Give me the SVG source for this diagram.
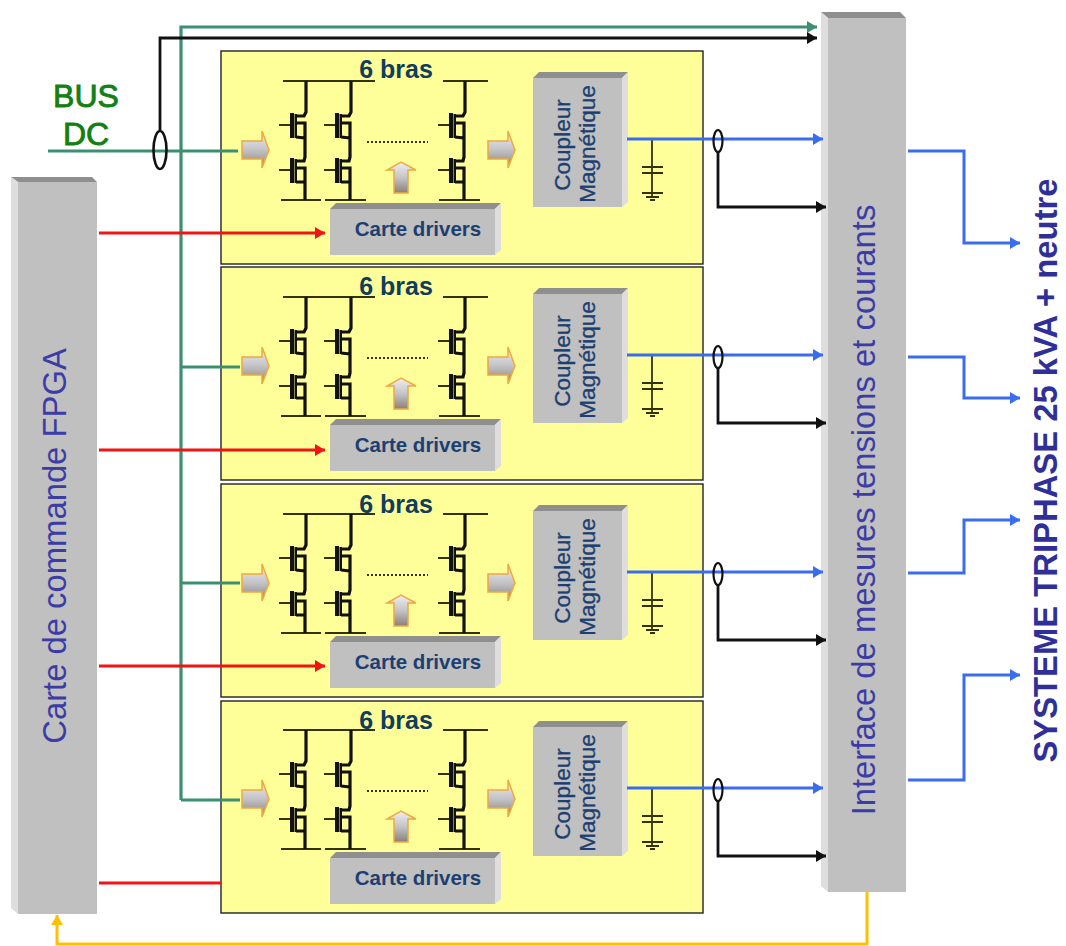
<svg xmlns="http://www.w3.org/2000/svg" width="1066" height="946" viewBox="0 0 1066 946">
<style>
text{font-family:"Liberation Sans",Arial,sans-serif}
.panel{fill:#ffff99;stroke:#222;stroke-width:1.400}
.face{fill:#c0c0c0}
.btop{fill:#8f8f8f}
.bside{fill:#dedede}
.cd{fill:#1c3f72;font-size:20.500px;font-weight:700}
.lbl{fill:#1c3f72;font-size:22.500px;stroke:#1c3f72;stroke-width:.3}
.bras{fill:#0f3d5e;font-size:25px;font-weight:700}
.big{fill:#3c3ca6;font-size:32.800px}
.sw{fill:none;stroke:#111;stroke-width:3.200}
.thin{fill:none;stroke:#33330a;stroke-width:1.800}
.arrowbox{fill:url(#sil);stroke:#f0a840;stroke-width:1.500}
.cn{fill:none;stroke-width:2.800}
.g{stroke:#3a9070;stroke-width:3.200}.k{stroke:#111}.r{stroke:#f01414;stroke-width:3.200}.b{stroke:#3a6cf0;stroke-width:3}.y{stroke:#ffc000;stroke-width:3}
</style>
<defs>
<linearGradient id="sil" x1="0" y1="0" x2="0" y2="1"><stop offset="0" stop-color="#f0f0f4"/><stop offset=".5" stop-color="#c4c4c8"/><stop offset="1" stop-color="#8a8078"/></linearGradient>
<marker id="mk" markerUnits="userSpaceOnUse" markerWidth="11" markerHeight="13" refX="10" refY="6.500" orient="auto"><path d="M0 .5L10 6.500L0 12.500z" fill="#111"/></marker>
<marker id="mg" markerUnits="userSpaceOnUse" markerWidth="11" markerHeight="13" refX="10" refY="6.500" orient="auto"><path d="M0 .5L10 6.500L0 12.500z" fill="#3a9070"/></marker>
<marker id="mr" markerUnits="userSpaceOnUse" markerWidth="11" markerHeight="13" refX="10" refY="6.500" orient="auto"><path d="M0 .5L10 6.500L0 12.500z" fill="#f01414"/></marker>
<marker id="mb" markerUnits="userSpaceOnUse" markerWidth="11" markerHeight="13" refX="10" refY="6.500" orient="auto"><path d="M0 .5L10 6.500L0 12.500z" fill="#3a6cf0"/></marker>
<marker id="my" markerUnits="userSpaceOnUse" markerWidth="11" markerHeight="13" refX="10" refY="6.500" orient="auto"><path d="M0 .5L10 6.500L0 12.500z" fill="#ffc000"/></marker>
<g id="leg">
<path class="sw" d="M1 -44V-13L-1 -9H-9M-9 -2H0V13L-9 12M0 13V32L-1 36H-9M-9 43H0V57L-9 57M0 57V75"/>
<path class="thin" d="M-26 0H-13M-26 45H-13"/>
<path d="M-15 -12H-11V13H-15zM-15 33H-11V58H-15z" fill="#111"/>
<path d="M-10.500 -11H-8V13H-10.500zM-10.500 34H-8V58H-10.500z" fill="#111"/>
</g>
<g id="mod">
<path class="thin" d="M283 81H375M443 81H488M281 200H321M325 200H366M439 200H480"/>
<use href="#leg" x="305" y="125"/><use href="#leg" x="350" y="125"/><use href="#leg" x="464" y="125"/>
<path d="M367 142H428" fill="none" stroke="#33330a" stroke-width="2" stroke-dasharray="2 2"/>
<path class="arrowbox" d="M242 141H262V131L269 150L262 168V159H242z"/>
<path class="arrowbox" d="M488 141H508V131L515 150L508 168V159H488z"/>
<path class="arrowbox" d="M394 193V170H387L401 162L416 170H408V193z"/>
<path class="face" d="M330 209H495V255H330z"/><path class="btop" d="M330 209L336 203H501L495 209z"/><path class="bside" d="M495 209L501 203V250L495 255z"/>
<path class="face" d="M533 78H622V207H533z"/><path class="btop" d="M533 78L539 72H628L622 78z"/><path class="bside" d="M622 78L628 72V202L622 207z"/>
<path class="thin" d="M652 139V198M642 167H663M642 173H663M642 193H663M646 197H659M650 200H655" stroke-width="2"/>
</g>
</defs>
<g id="module1"><rect class="panel" x="221" y="51" width="482" height="213"/><use href="#mod"/><text class="bras" x="396" y="78" text-anchor="middle">6 bras</text><text class="cd" x="418" y="236" text-anchor="middle">Carte drivers</text><text class="lbl" transform="translate(570 145) rotate(-90)" text-anchor="middle">Coupleur</text><text class="lbl" transform="translate(595 144) rotate(-90)" text-anchor="middle">Magnétique</text></g>
<g id="module2"><rect class="panel" x="221" y="267" width="482" height="213"/><use href="#mod" y="216"/><text class="bras" x="396" y="295" text-anchor="middle">6 bras</text><text class="cd" x="418" y="452" text-anchor="middle">Carte drivers</text><text class="lbl" transform="translate(570 361) rotate(-90)" text-anchor="middle">Coupleur</text><text class="lbl" transform="translate(595 360) rotate(-90)" text-anchor="middle">Magnétique</text></g>
<g id="module3"><rect class="panel" x="221" y="484" width="482" height="213"/><use href="#mod" y="433"/><text class="bras" x="396" y="513" text-anchor="middle">6 bras</text><text class="cd" x="418" y="669" text-anchor="middle">Carte drivers</text><text class="lbl" transform="translate(570 578) rotate(-90)" text-anchor="middle">Coupleur</text><text class="lbl" transform="translate(595 577) rotate(-90)" text-anchor="middle">Magnétique</text></g>
<g id="module4"><rect class="panel" x="221" y="701" width="482" height="212"/><use href="#mod" y="649"/><text class="bras" x="396" y="729" text-anchor="middle">6 bras</text><text class="cd" x="418" y="885" text-anchor="middle">Carte drivers</text><text class="lbl" transform="translate(570 794) rotate(-90)" text-anchor="middle">Coupleur</text><text class="lbl" transform="translate(595 793) rotate(-90)" text-anchor="middle">Magnétique</text></g>
<g id="fpga"><path class="face" d="M18 182H97V914H18z"/><path class="btop" d="M11 177H92L97 182H18z"/><path class="bside" d="M11 177L18 182V914L11 908z"/><text class="big" transform="translate(66 546) rotate(-90)" text-anchor="middle">Carte de commande FPGA</text></g>
<g id="interface"><path class="face" d="M828 18H906V892H828z"/><path class="btop" d="M821 12H900L906 18H828z"/><path class="bside" d="M821 12L828 18V892L821 886z"/><text class="big" transform="translate(875 510) rotate(-90)" text-anchor="middle">Interface de mesures tensions et courants</text></g>
<g id="bus"><text x="86" y="107" text-anchor="middle" fill="#128012" font-size="32" stroke="#128012" stroke-width=".9">BUS</text><text x="86" y="145" text-anchor="middle" fill="#128012" font-size="32" stroke="#128012" stroke-width=".9">DC</text></g>
<g id="systeme"><text transform="translate(1057 470.500) rotate(-90)" text-anchor="middle" fill="#2f2f9a" font-size="32.800" font-weight="700">SYSTEME TRIPHASE 25 kVA + neutre</text></g>
<g id="connectors">
<path class="cn g" marker-end="url(#mg)" d="M181 800V27H817"/>
<path class="cn g" d="M48 151H238M181 367H240M181 583H240M181 800H240"/>
<path class="cn k" marker-end="url(#mk)" d="M160 130V38H817"/>
<ellipse cx="160" cy="150" rx="6.500" ry="19" fill="none" stroke="#111" stroke-width="2.600"/>
<path class="cn r" marker-end="url(#mr)" d="M99 233H325"/><path class="cn r" marker-end="url(#mr)" d="M99 450H325"/><path class="cn r" marker-end="url(#mr)" d="M99 666H325"/><path class="cn r" d="M99 883H221"/>
<path class="cn b" marker-end="url(#mb)" d="M627 139H823"/><path class="cn b" marker-end="url(#mb)" d="M627 355H823"/><path class="cn b" marker-end="url(#mb)" d="M627 572H823"/><path class="cn b" marker-end="url(#mb)" d="M627 788H823"/>
<path class="cn k" marker-end="url(#mk)" d="M718 152V207H826"/><path class="cn k" marker-end="url(#mk)" d="M718 368V423H826"/><path class="cn k" marker-end="url(#mk)" d="M718 585V640H826"/><path class="cn k" marker-end="url(#mk)" d="M718 801V856H826"/>
<g fill="none" stroke="#111" stroke-width="2.200"><ellipse cx="718" cy="141" rx="4.500" ry="11"/><ellipse cx="718" cy="357" rx="4.500" ry="11"/><ellipse cx="718" cy="574" rx="4.500" ry="11"/><ellipse cx="718" cy="790" rx="4.500" ry="11"/></g>
<path class="cn b" marker-end="url(#mb)" d="M908 151H964V243H1020"/><path class="cn b" marker-end="url(#mb)" d="M908 357H964V398H1020"/><path class="cn b" marker-end="url(#mb)" d="M908 573H964V520H1020"/><path class="cn b" marker-end="url(#mb)" d="M908 780H964V675H1020"/>
<path class="cn y" marker-end="url(#my)" d="M867 892V944H57V915"/>
</g>
</svg>
